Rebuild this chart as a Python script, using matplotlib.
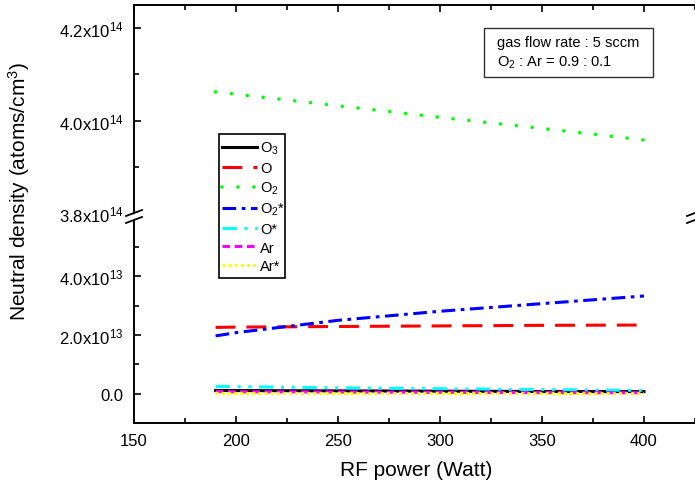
import matplotlib
matplotlib.use("Agg")
import matplotlib.pyplot as plt
from matplotlib.ticker import FixedLocator, FuncFormatter, MultipleLocator
from matplotlib.lines import Line2D
from matplotlib.patches import Rectangle, Polygon

plt.rcParams["font.family"] = ["Liberation Sans", "DejaVu Sans"]
plt.rcParams["mathtext.fontset"] = "custom"
plt.rcParams["mathtext.rm"] = "Liberation Sans"
plt.rcParams["mathtext.it"] = "Liberation Sans:italic"

# data
power = [190, 200, 250, 300, 350, 400]
o3 = [0.11e13, 0.105e13, 0.095e13, 0.085e13, 0.075e13, 0.07e13]
o_atom = [2.26e13, 2.27e13, 2.29e13, 2.31e13, 2.33e13, 2.34e13]
o2 = [4.062e14, 4.057e14, 4.032e14, 4.007e14, 3.983e14, 3.958e14]
o2_exc = [1.97e13, 2.08e13, 2.50e13, 2.81e13, 3.07e13, 3.33e13]
o_exc = [0.25e13, 0.24e13, 0.20e13, 0.17e13, 0.14e13, 0.11e13]
ar = [0.07e13, 0.065e13, 0.055e13, 0.045e13, 0.035e13, 0.03e13]
ar_exc = [0.01e13, 0.01e13, 0.005e13, 0.005e13, 0.0, 0.0]
xticks = [150, 200, 250, 300, 350, 400]

W, H = 695, 485
fig = plt.figure(figsize=(W / 100, H / 100), dpi=100)

def fx(x):
    return x / W

def fy(y):
    return 1 - y / H

left, right = 134, 695
top, brk, bottom = 6, 214, 424
ax_hi = fig.add_axes([fx(left), fy(brk), fx(right - left), (brk - top) / H])
ax_lo = fig.add_axes([fx(left), fy(bottom), fx(right - left), (bottom - brk) / H])

ax_lo.plot(power, o3, color="black", lw=2.2, label="O$_3$")
ax_lo.plot(power, o_atom, color="red", lw=2.2, dashes=(6.5, 3.6), label="O")
ax_hi.plot(power, o2, color="#00ff00", lw=2.6, dashes=(0.01, 4.4),
           dash_capstyle="round", label="O$_2$")
ax_lo.plot(power, o2_exc, color="blue", lw=2.2, dashes=(4.5, 1.8, 1.2, 1.8), label="O$_2$*")
ax_lo.plot(power, o_exc, color="cyan", lw=2.2, dashes=(4.7, 2.5, 1, 2.5, 1, 2.5), label="O*")
ax_lo.plot(power, ar, color="magenta", lw=2.2, dashes=(2.5, 1.5), label="Ar")
ax_lo.plot(power, ar_exc, color="yellow", lw=2.2, dashes=(1, 1), label="Ar*")

for ax in (ax_hi, ax_lo):
    ax.set_xlim(150, 425)
    ax.spines["right"].set_visible(False)
    for s in ax.spines.values():
        s.set_linewidth(1.4)
    ax.xaxis.set_major_locator(FixedLocator(xticks))
    ax.xaxis.set_minor_locator(MultipleLocator(25))
    ax.tick_params(which="both", direction="in", width=1.2, right=False, labelsize=12)
    ax.tick_params(which="major", length=5, pad=7.5)
    ax.tick_params(which="minor", length=3.5)

ax_hi.spines["bottom"].set_visible(False)
ax_hi.tick_params(axis="x", which="both", bottom=False, top=True, labelbottom=False)
ax_hi.set_ylim(3.8e14, 4.25e14)
ax_hi.yaxis.set_major_locator(FixedLocator([3.8e14, 4.0e14, 4.2e14]))
ax_hi.yaxis.set_minor_locator(FixedLocator([3.9e14, 4.1e14]))
ax_hi.yaxis.set_major_formatter(FuncFormatter(lambda v, p: f"{v / 1e14:.1f}x10$^{{14}}$"))

ax_lo.spines["top"].set_visible(False)
ax_lo.tick_params(axis="x", which="both", top=False)
ax_lo.set_ylim(-1e13, 6.16e13)
ax_lo.yaxis.set_major_locator(FixedLocator([0, 2e13, 4e13]))
ax_lo.yaxis.set_minor_locator(FixedLocator([1e13, 3e13, 5e13]))
ax_lo.yaxis.set_major_formatter(
    FuncFormatter(lambda v, p: "0.0" if v == 0 else f"{v / 1e13:.1f}x10$^{{13}}$"))

# break marks on the left and right spines
for xc in (left, right):
    fig.patches.append(Polygon([(fx(xc - 8), fy(brk + 4)), (fx(xc + 8), fy(brk - 2)),
                                (fx(xc + 8), fy(brk + 3)), (fx(xc - 8), fy(brk + 9))],
                               closed=True, transform=fig.transFigure,
                               facecolor="white", edgecolor="none", zorder=5))
    for dy in (0, 7):
        fig.lines.append(Line2D([fx(xc - 8), fx(xc + 8)], [fy(brk + 3 + dy), fy(brk - 3 + dy)],
                                transform=fig.transFigure, color="black", lw=1.3, zorder=6))

fig.text(fx(416), fy(471), "RF power (Watt)", ha="center", va="center", fontsize=15)
fig.text(fx(19), fy(192), "Neutral density (atoms/cm$^3$)", ha="center", va="center",
         rotation=90, fontsize=15)

# legend spans the break, so it lives on the figure; frame drawn separately
h_lo, l_lo = ax_lo.get_legend_handles_labels()
h_hi, l_hi = ax_hi.get_legend_handles_labels()
handles = h_lo[:2] + h_hi + h_lo[2:]
labels = l_lo[:2] + l_hi + l_lo[2:]
leg = fig.legend(handles, labels, loc="upper left", bbox_to_anchor=(fx(221.5), fy(141)),
                 fontsize=10.5, frameon=False, handlelength=2.4, handletextpad=0.25,
                 labelspacing=0.32, borderpad=0, borderaxespad=0)
leg.set_zorder(10)
fig.patches.append(Rectangle((fx(219), fy(279)), fx(285 - 219), (279 - 135) / H,
                             facecolor="white", edgecolor="black", lw=1.2,
                             transform=fig.transFigure, zorder=9))

fig.patches.append(Rectangle((fx(484), fy(78)), fx(653 - 484), (78 - 29) / H, fill=False,
                             edgecolor="#333333", lw=1.0, transform=fig.transFigure))
fig.text(fx(497), fy(43), "gas flow rate : 5 sccm", ha="left", va="center", fontsize=10.5)
fig.text(fx(497), fy(63), "O$_2$ : Ar = 0.9 : 0.1", ha="left", va="center", fontsize=10.5)

fig.savefig("out.png", dpi=100)
